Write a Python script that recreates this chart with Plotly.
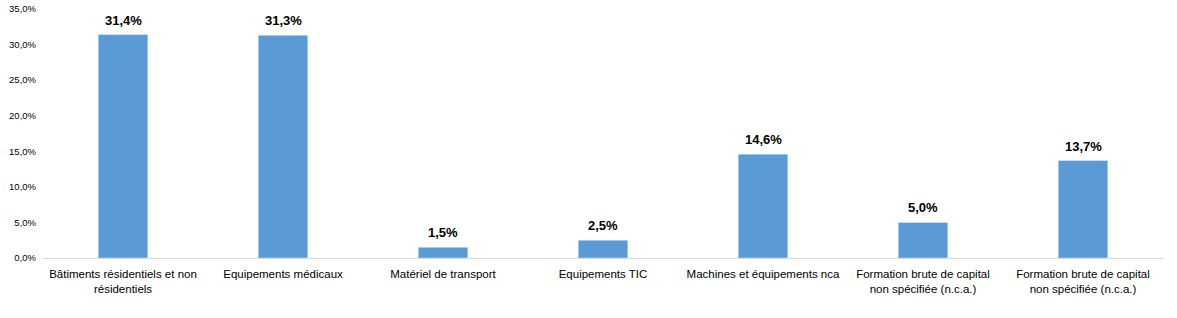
import plotly.graph_objects as go

categories = [
    "Bâtiments résidentiels et non<br>résidentiels",
    "Equipements médicaux",
    "Matériel de transport",
    "Equipements TIC",
    "Machines et équipements nca",
    "Formation brute de capital<br>non spécifiée (n.c.a.)",
    "Formation brute de capital<br>non spécifiée (n.c.a.)",
]
values = [31.4, 31.3, 1.5, 2.5, 14.6, 5.0, 13.7]
ytick_vals = [0, 5, 10, 15, 20, 25, 30, 35]
ytick_text = ["0,0%", "5,0%", "10,0%", "15,0%", "20,0%", "25,0%", "30,0%", "35,0%"]

positions = list(range(len(categories)))

fig = go.Figure(
    go.Bar(
        x=positions,
        y=values,
        marker_color="#5B9BD5",
        width=0.31,
    )
)

for p, v in zip(positions, values):
    fig.add_annotation(
        x=p, y=v, xref="x", yref="y",
        text="<b>" + f"{v:.1f}".replace(".", ",") + "%</b>",
        showarrow=False, yanchor="bottom", yshift=5,
        font=dict(family="Liberation Sans, Arial", size=13, color="#000000"),
    )

fig.update_layout(
    width=1177,
    height=318,
    margin=dict(l=43, r=14, t=9, b=60, autoexpand=False),
    plot_bgcolor="white",
    paper_bgcolor="white",
    showlegend=False,
    font=dict(family="Liberation Sans, Arial", color="#000000"),
)

fig.update_xaxes(
    tickmode="array",
    tickvals=positions,
    ticktext=categories,
    range=[-0.5, len(categories) - 0.5],
    showline=True,
    linecolor="#D9D9D9",
    linewidth=1,
    showgrid=False,
    ticks="",
    ticklabelstandoff=5,
    tickfont=dict(size=11.5, family="Liberation Sans, Arial", color="#000000"),
)

fig.update_yaxes(
    range=[0, 35],
    tickmode="array",
    tickvals=ytick_vals,
    ticktext=ytick_text,
    showgrid=False,
    showline=False,
    zeroline=False,
    ticks="",
    ticklabelstandoff=6,
    tickfont=dict(size=9.5, family="Liberation Sans, Arial", color="#000000"),
)

fig.write_html("out.html")
